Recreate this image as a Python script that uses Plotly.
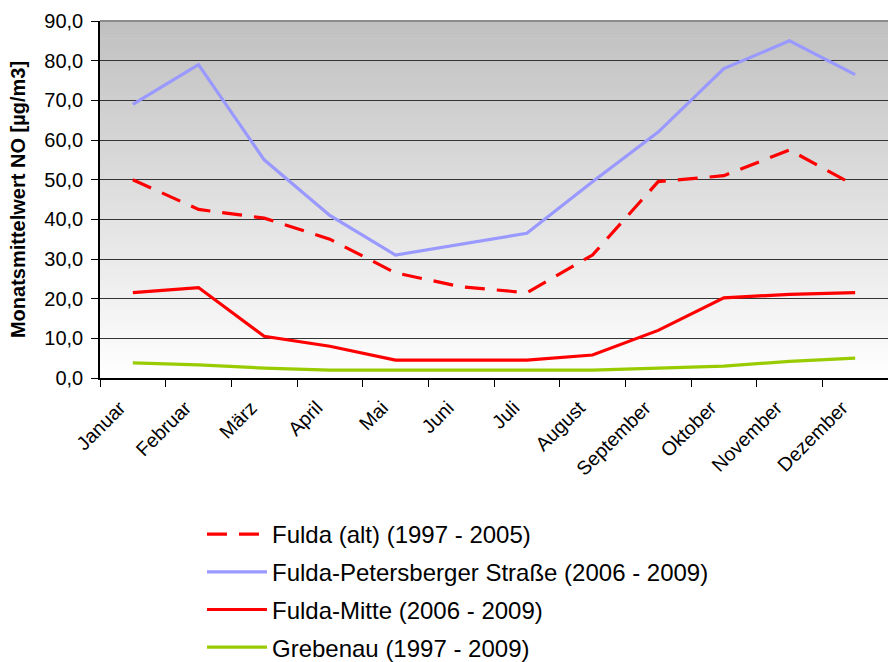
import plotly.graph_objects as go

months = ["Januar", "Februar", "März", "April", "Mai", "Juni", "Juli",
          "August", "September", "Oktober", "November", "Dezember"]

fulda_alt = [50.0, 42.5, 40.3, 35.0, 26.5, 23.0, 21.5, 31.0, 49.5, 51.0, 57.5, 48.5]
petersberger = [69.0, 79.0, 55.0, 41.0, 31.0, 33.7, 36.5, 49.5, 62.0, 78.0, 85.0, 76.5]
fulda_mitte = [21.5, 22.8, 10.5, 8.0, 4.5, 4.5, 4.5, 5.8, 12.0, 20.2, 21.1, 21.5]
grebenau = [3.8, 3.3, 2.5, 2.0, 2.0, 2.0, 2.0, 2.0, 2.5, 3.0, 4.2, 5.0]

FONT = "Liberation Sans, Arial, sans-serif"

fig = go.Figure()
series = [
    ("Fulda (alt) (1997 - 2005)", fulda_alt, "#FF0000", "20px,12px"),
    ("Fulda-Petersberger Straße (2006 - 2009)", petersberger, "#9999FF", "solid"),
    ("Fulda-Mitte (2006 - 2009)", fulda_mitte, "#FF0000", "solid"),
    ("Grebenau (1997 - 2009)", grebenau, "#99CC00", "solid"),
]
for i, (name, vals, col, dash) in enumerate(series):
    fig.add_trace(go.Scatter(
        x=months, y=vals, name=name, mode="lines",
        line=dict(color=col, width=3.2, dash=dash),
        legendgroup=f"g{i}",
    ))

# vertical gray gradient background
n = 80
shapes = []
for k in range(n):
    y0 = k / n
    y1 = (k + 1) / n
    t = (y0 + y1) / 2
    v = int(round(255 - 63 * t))
    shapes.append(dict(type="rect", xref="paper", yref="paper",
                       x0=0, x1=1, y0=y0, y1=y1 + 0.002,
                       fillcolor=f"rgb({v},{v},{v})", line=dict(width=0),
                       layer="below"))
# lighter top border line of the plot area
shapes.append(dict(type="line", xref="paper", yref="paper",
                   x0=0, x1=1, y0=1, y1=1,
                   line=dict(color="#8c8c8c", width=2), layer="above"))

fig.update_layout(
    width=888, height=662,
    margin=dict(l=100, r=0, t=21, b=284, autoexpand=False),
    paper_bgcolor="white", plot_bgcolor="white",
    separators=",.",
    font=dict(family=FONT, color="black"),
    shapes=shapes,
    showlegend=True,
    legend=dict(x=0.1294, y=-0.3754, xanchor="left", yanchor="top",
                font=dict(size=24, family=FONT), tracegroupgap=3.5,
                itemwidth=60, bgcolor="rgba(0,0,0,0)"),
    xaxis=dict(
        type="category", tickangle=-45, tickson="boundaries",
        ticks="outside", ticklen=7, tickcolor="black",
        showline=True, linecolor="black", linewidth=1.5,
        showgrid=False, tickfont=dict(size=19.5, family=FONT),
        ticklabelshift=-13, ticklabelstandoff=9,
        range=[-0.5, 11.5], automargin=False,
    ),
    yaxis=dict(
        range=[0, 90], dtick=10, tickformat=".1f",
        ticks="outside", ticklen=7, tickcolor="black",
        showline=True, linecolor="black", linewidth=1.5,
        showgrid=True, gridcolor="#333333", gridwidth=1,
        zeroline=False, automargin=False,
        tickfont=dict(size=20, family=FONT), ticklabelstandoff=4,
        title=dict(text="<b>Monatsmittelwert NO [µg/m3]</b>",
                   font=dict(size=20, family=FONT), standoff=13),
    ),
)

fig.write_html("out.html", config={"displayModeBar": False},
               post_script="document.body.style.margin='0';document.body.style.overflow='hidden';")
